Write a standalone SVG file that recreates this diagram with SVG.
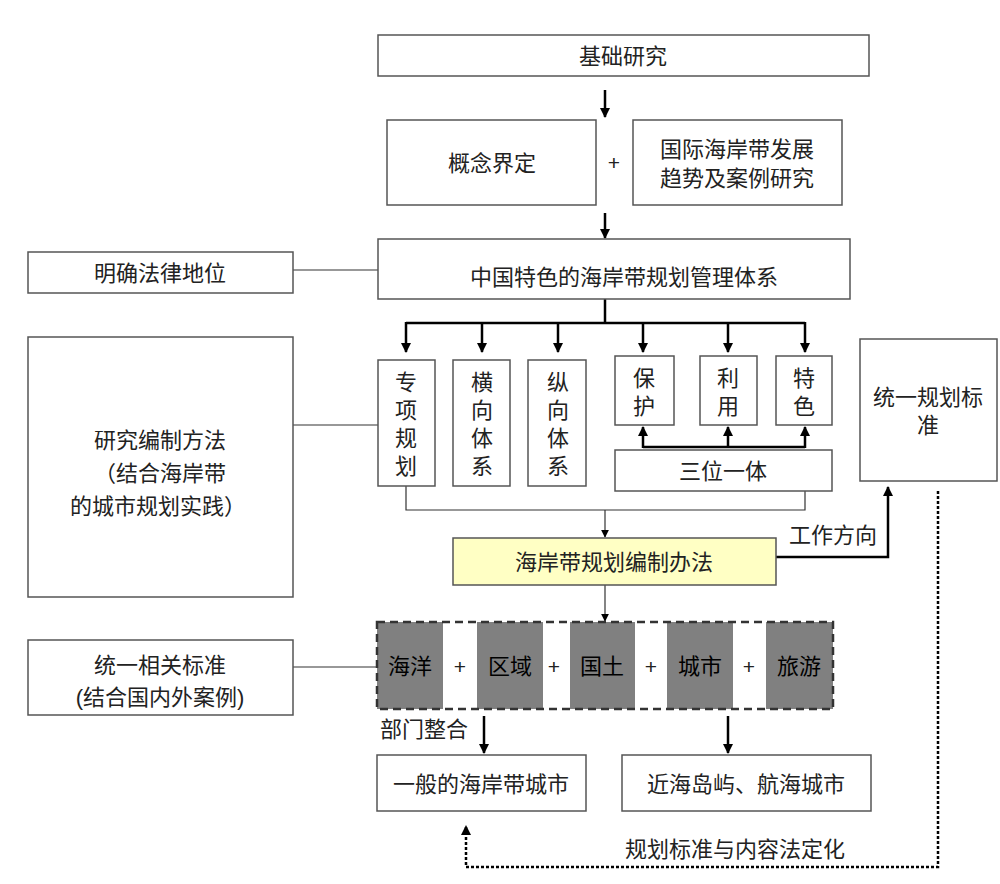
<svg xmlns="http://www.w3.org/2000/svg" width="1000" height="884" viewBox="0 0 1000 884">
<defs>
<marker id="ah" viewBox="0 0 10 10" refX="9" refY="5" markerWidth="10" markerHeight="10" markerUnits="userSpaceOnUse" orient="auto"><path d="M0,0 L10,5 L0,10 z" fill="#000"/></marker>
<marker id="ahs" viewBox="0 0 10 10" refX="9" refY="5" markerWidth="8" markerHeight="8" markerUnits="userSpaceOnUse" orient="auto"><path d="M0,0 L10,5 L0,10 z" fill="#000"/></marker>
<style>
text{font-family:"Liberation Sans","Noto Sans CJK SC",sans-serif;font-size:22px;fill:#222;text-anchor:middle;dominant-baseline:central}
.p{font-size:21px}
.b{fill:#fff;stroke:#555;stroke-width:1.5}
.y{fill:#ffffc4;stroke:#555;stroke-width:1.5}
.g{fill:#808080;stroke:none}
.l{fill:none;stroke:#333;stroke-width:1.2}
.t{fill:none;stroke:#000;stroke-width:2.5}
.d{fill:none;stroke:#000;stroke-width:2.5;stroke-dasharray:3 2}
</style>
</defs>
<rect width="1000" height="884" fill="#fff"/>
<g id="connectors">
<line class="t" x1="605" y1="90" x2="605" y2="117" marker-end="url(#ah)"/>
<line class="t" x1="605" y1="213" x2="605" y2="238" marker-end="url(#ah)"/>
<line class="l" x1="293" y1="270" x2="378" y2="270"/>
<polyline class="t" points="605,299 605,323"/>
<line class="t" x1="406" y1="323" x2="805" y2="323"/>
<line class="t" x1="406" y1="322" x2="406" y2="352" marker-end="url(#ah)"/>
<line class="t" x1="482" y1="322" x2="482" y2="352" marker-end="url(#ah)"/>
<line class="t" x1="558" y1="322" x2="558" y2="352" marker-end="url(#ah)"/>
<line class="t" x1="643" y1="322" x2="643" y2="352" marker-end="url(#ah)"/>
<line class="t" x1="728" y1="322" x2="728" y2="352" marker-end="url(#ah)"/>
<line class="t" x1="805" y1="322" x2="805" y2="352" marker-end="url(#ah)"/>
<line class="t" x1="643" y1="447" x2="805" y2="447"/>
<line class="t" x1="643" y1="448" x2="643" y2="427" marker-end="url(#ah)"/>
<line class="t" x1="728" y1="448" x2="728" y2="427" marker-end="url(#ah)"/>
<line class="t" x1="805" y1="448" x2="805" y2="427" marker-end="url(#ah)"/>
<line class="l" x1="293" y1="425" x2="378" y2="425"/>
<polyline class="l" points="406,486 406,510 805,510 805,491"/>
<line class="l" x1="605" y1="510" x2="605" y2="537" marker-end="url(#ahs)"/>
<line class="l" x1="605" y1="585" x2="605" y2="621" marker-end="url(#ahs)"/>
<polyline class="t" points="776,557 888,557 888,487" marker-end="url(#ah)"/>
<line class="l" x1="293" y1="667" x2="377" y2="667"/>
<line class="t" x1="484" y1="716" x2="484" y2="753" marker-end="url(#ah)"/>
<line class="t" x1="728" y1="716" x2="728" y2="753" marker-end="url(#ah)"/>
<polyline class="d" points="938,491 938,867 466,867 466,826" marker-end="url(#ah)"/>
</g>
<g id="n-jichu"><rect class="b" x="378" y="35" width="491" height="41"/><text x="623" y="56">基础研究</text></g>
<g id="n-gainian"><rect class="b" x="387" y="120" width="209" height="85"/><text x="492" y="163">概念界定</text></g>
<text class="p" x="614" y="162">+</text>
<g id="n-guoji"><rect class="b" x="633" y="120" width="209" height="85"/><text x="737" y="149">国际海岸带发展</text><text x="737" y="178">趋势及案例研究</text></g>
<g id="n-zhongguo"><rect class="b" x="378" y="239" width="472" height="60"/><text x="624" y="277">中国特色的海岸带规划管理体系</text></g>
<g id="n-mingque"><rect class="b" x="28" y="252" width="265" height="41"/><text x="160" y="273">明确法律地位</text></g>
<g id="n-yanjiu"><rect class="b" x="28" y="337" width="265" height="260"/><text x="160" y="440">研究编制方法</text><text x="160" y="473">（结合海岸带</text><text x="158" y="506">的城市规划实践）</text></g>
<g id="n-zhuanxiang"><rect class="b" x="378" y="360" width="57" height="126"/><text x="406" y="382">专</text><text x="406" y="410">项</text><text x="406" y="438">规</text><text x="406" y="466">划</text></g>
<g id="n-hengxiang"><rect class="b" x="453" y="360" width="57" height="126"/><text x="482" y="382">横</text><text x="482" y="410">向</text><text x="482" y="438">体</text><text x="482" y="466">系</text></g>
<g id="n-zongxiang"><rect class="b" x="528" y="360" width="58" height="126"/><text x="558" y="382">纵</text><text x="558" y="410">向</text><text x="558" y="438">体</text><text x="558" y="466">系</text></g>
<g id="n-baohu"><rect class="b" x="615" y="356" width="59" height="69"/><text x="644" y="378">保</text><text x="644" y="406">护</text></g>
<g id="n-liyong"><rect class="b" x="700" y="356" width="57" height="69"/><text x="728" y="378">利</text><text x="728" y="406">用</text></g>
<g id="n-tese"><rect class="b" x="776" y="356" width="56" height="69"/><text x="804" y="378">特</text><text x="804" y="406">色</text></g>
<g id="n-sanwei"><rect class="b" x="615" y="450" width="217" height="41"/><text x="723" y="471">三位一体</text></g>
<g id="n-tongyiguihua"><rect class="b" x="860" y="339" width="137" height="142"/><text x="928" y="397">统一规划标</text><text x="928" y="425">准</text></g>
<g id="n-banfa"><rect class="y" x="453" y="538" width="323" height="47"/><text x="614" y="562">海岸带规划编制办法</text></g>
<text x="833" y="535">工作方向</text>
<g id="n-bumen">
<rect class="g" x="377" y="622" width="66" height="87"/>
<rect class="g" x="477" y="622" width="66" height="87"/>
<rect class="g" x="570" y="622" width="65" height="87"/>
<rect class="g" x="667" y="622" width="66" height="87"/>
<rect class="g" x="766" y="622" width="67" height="87"/>
<rect x="377" y="622" width="456" height="87" fill="none" stroke="#333" stroke-width="2.5" stroke-dasharray="8 5"/>
<text x="410" y="666" style="fill:#000">海洋</text>
<text class="p" x="460" y="666">+</text>
<text x="510" y="666" style="fill:#000">区域</text>
<text class="p" x="554" y="666">+</text>
<text x="602" y="666" style="fill:#000">国土</text>
<text class="p" x="651" y="666">+</text>
<text x="700" y="666" style="fill:#000">城市</text>
<text class="p" x="749" y="666">+</text>
<text x="799" y="666" style="fill:#000">旅游</text>
</g>
<g id="n-tongyixiangguan"><rect class="b" x="28" y="640" width="265" height="75"/><text x="160" y="665">统一相关标准</text><text x="160" y="697">(结合国内外案例)</text></g>
<text x="424" y="729">部门整合</text>
<g id="n-yiban"><rect class="b" x="377" y="755" width="209" height="56"/><text x="481" y="784">一般的海岸带城市</text></g>
<g id="n-jinhai"><rect class="b" x="622" y="755" width="249" height="56"/><text x="746" y="784">近海岛屿、航海城市</text></g>
<text x="735" y="849">规划标准与内容法定化</text>
</svg>
